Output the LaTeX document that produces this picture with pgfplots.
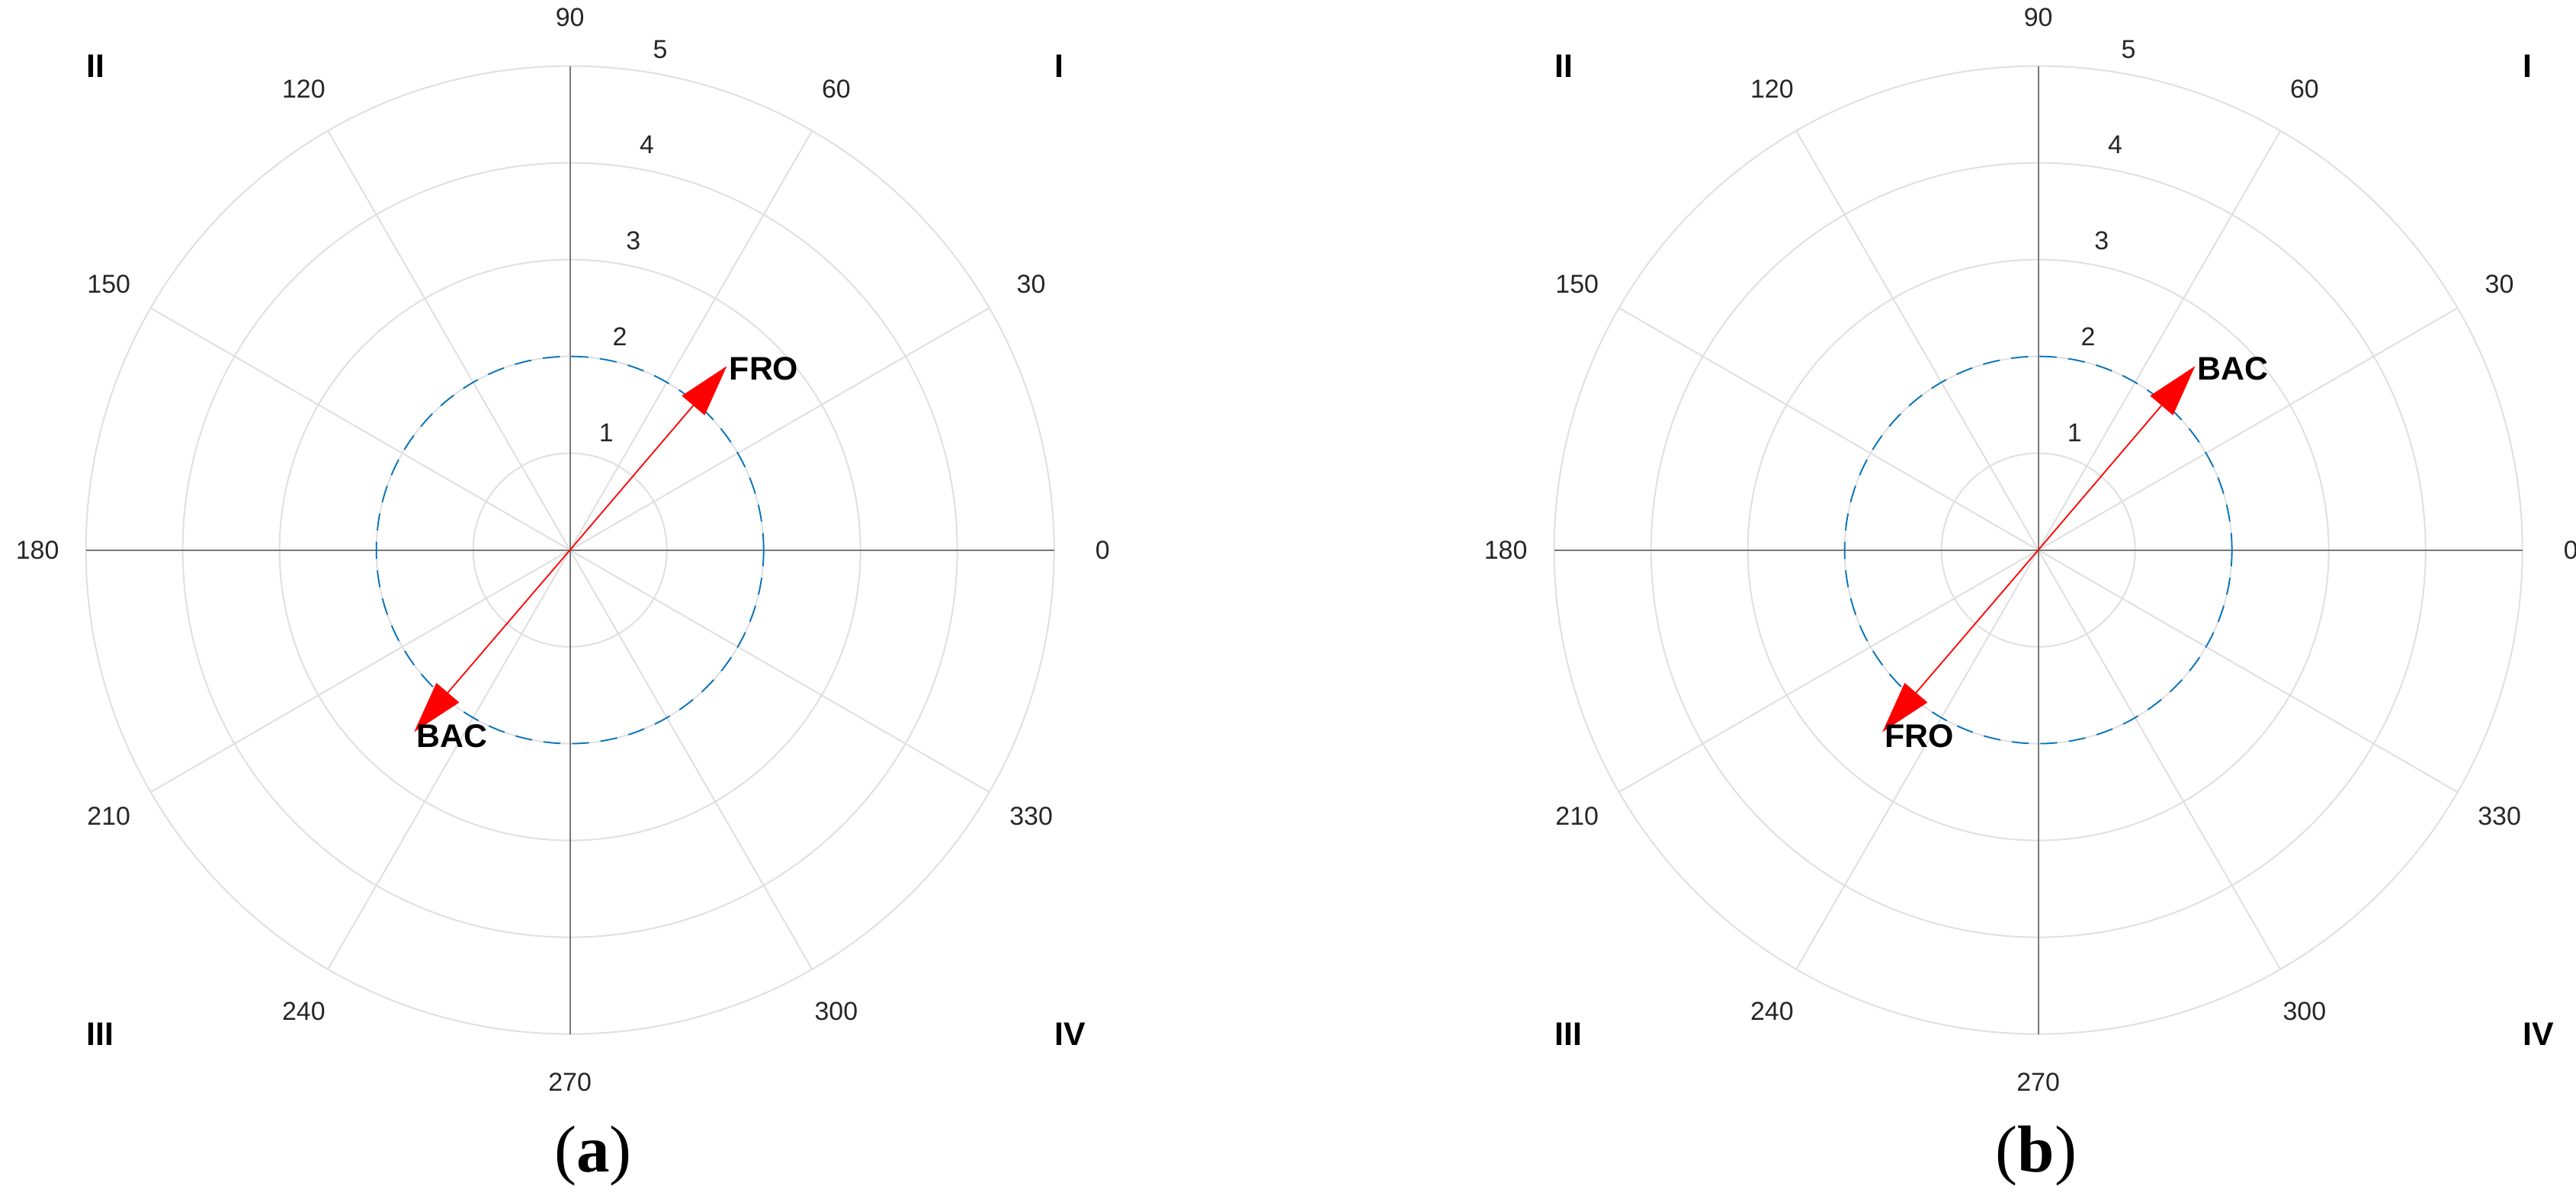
\documentclass[border=0pt]{standalone}
\usepackage{fontspec}
\setmainfont{Liberation Sans}
\newfontfamily\capfont{Liberation Serif}
\usepackage{pgfplots}
\pgfplotsset{compat=1.18}
\usetikzlibrary{arrows.meta}
\definecolor{gridc}{gray}{0.88}
\definecolor{axc}{gray}{0.47}
\definecolor{mblue}{HTML}{0072BD}

\pgfplotsset{
  polarpanel/.style={
    hide axis, scale only axis, x=1cm, y=1cm, clip=false,
    anchor=south west, ymin=-6.735, ymax=5.683,
  },
}
\tikzset{
  tl/.style={font=\fontsize{7.6}{9}\selectfont, inner sep=0pt, text=black!85},
  bl/.style={font=\fontsize{9.6}{11}\selectfont\bfseries, inner sep=0pt},
  arr/.style={red, line width=0.4pt, -{Triangle[length=0.535cm, width=0.307cm]}},
}

\newcommand{\polargrid}{%
  \draw[gridc, line width=0.45pt] (axis cs:0,0) circle[radius=1];
  \draw[gridc, line width=0.45pt] (axis cs:0,0) circle[radius=2];
  \draw[gridc, line width=0.45pt] (axis cs:0,0) circle[radius=3];
  \draw[gridc, line width=0.45pt] (axis cs:0,0) circle[radius=4];
  \draw[gridc, line width=0.45pt] (axis cs:0,0) circle[radius=5];
  \draw[gridc, line width=0.45pt] (axis cs:4.330,2.5) -- (axis cs:-4.330,-2.5);
  \draw[gridc, line width=0.45pt] (axis cs:2.5,4.330) -- (axis cs:-2.5,-4.330);
  \draw[gridc, line width=0.45pt] (axis cs:-2.5,4.330) -- (axis cs:2.5,-4.330);
  \draw[gridc, line width=0.45pt] (axis cs:-4.330,2.5) -- (axis cs:4.330,-2.5);
  \draw[axc, line width=0.45pt] (axis cs:-5,0) -- (axis cs:5,0);
  \draw[axc, line width=0.45pt] (axis cs:0,-5) -- (axis cs:0,5);
  \draw[mblue, line width=0.4pt, dash pattern=on 5pt off 3.4pt] (axis cs:0,0) circle[radius=2];
  % angle labels
  \node[tl] at (axis cs:5.5,0) {0};
  \node[tl] at (axis cs:4.763,2.75) {30};
  \node[tl] at (axis cs:2.75,4.763) {60};
  \node[tl] at (axis cs:0,5.5) {90};
  \node[tl] at (axis cs:-2.75,4.763) {120};
  \node[tl] at (axis cs:-4.763,2.75) {150};
  \node[tl] at (axis cs:-5.5,0) {180};
  \node[tl] at (axis cs:-4.763,-2.75) {210};
  \node[tl] at (axis cs:-2.75,-4.763) {240};
  \node[tl] at (axis cs:0,-5.5) {270};
  \node[tl] at (axis cs:2.75,-4.763) {300};
  \node[tl] at (axis cs:4.763,-2.75) {330};
  % radial labels
  \node[tl, anchor=south west, text depth=0.212em] at (axis cs:0.1461,1.0398) {\hspace*{0.556em}1};
  \node[tl, anchor=south west, text depth=0.212em] at (axis cs:0.2853,2.0301) {\hspace*{0.556em}2};
  \node[tl, anchor=south west, text depth=0.212em] at (axis cs:0.4245,3.0203) {\hspace*{0.556em}3};
  \node[tl, anchor=south west, text depth=0.212em] at (axis cs:0.5636,4.0106) {\hspace*{0.556em}4};
  \node[tl, anchor=south west, text depth=0.212em] at (axis cs:0.7028,5.0009) {\hspace*{0.556em}5};
  % quadrant labels
  \node[bl, anchor=west] at (axis cs:5,5) {I};
  \node[bl, anchor=west] at (axis cs:-5,5) {II};
  \node[bl, anchor=west] at (axis cs:-5,-5) {III};
  \node[bl, anchor=west] at (axis cs:5,-5) {IV};
}

\begin{document}
\begin{tikzpicture}
\useasboundingbox (0,0) rectangle (26.606cm,12.417cm);

% ---------- panel (a) ----------
\begin{axis}[polarpanel, at={(0cm,0cm)}, xmin=-5.887, xmax=7.577]
  \polargrid
  \addplot[arr] coordinates {(0,0) (1.62,1.90)};
  \addplot[arr] coordinates {(0,0) (-1.61,-1.88)};
  \node[bl, anchor=west, xshift=0.02cm, yshift=-0.03cm] at (axis cs:1.62,1.90) {FRO};
  \node[bl, anchor=west, xshift=0.02cm, yshift=-0.04cm] at (axis cs:-1.61,-1.88) {BAC};
  \node[anchor=base, inner sep=0pt] at (axis cs:0.24,-6.428) {\capfont\fontsize{19.5}{22}\selectfont (\textbf{a})};
\end{axis}

% ---------- panel (b) ----------
\begin{axis}[polarpanel, at={(13.465cm,0cm)}, xmin=-7.587, xmax=5.555]
  \polargrid
  \addplot[arr] coordinates {(0,0) (1.62,1.90)};
  \addplot[arr] coordinates {(0,0) (-1.61,-1.88)};
  \node[bl, anchor=west, xshift=0.02cm, yshift=-0.03cm] at (axis cs:1.62,1.90) {BAC};
  \node[bl, anchor=west, xshift=0.02cm, yshift=-0.04cm] at (axis cs:-1.61,-1.88) {FRO};
  \node[anchor=base, inner sep=0pt] at (axis cs:-0.02,-6.428) {\capfont\fontsize{19.5}{22}\selectfont (\textbf{b})};
\end{axis}
\end{tikzpicture}
\end{document}
